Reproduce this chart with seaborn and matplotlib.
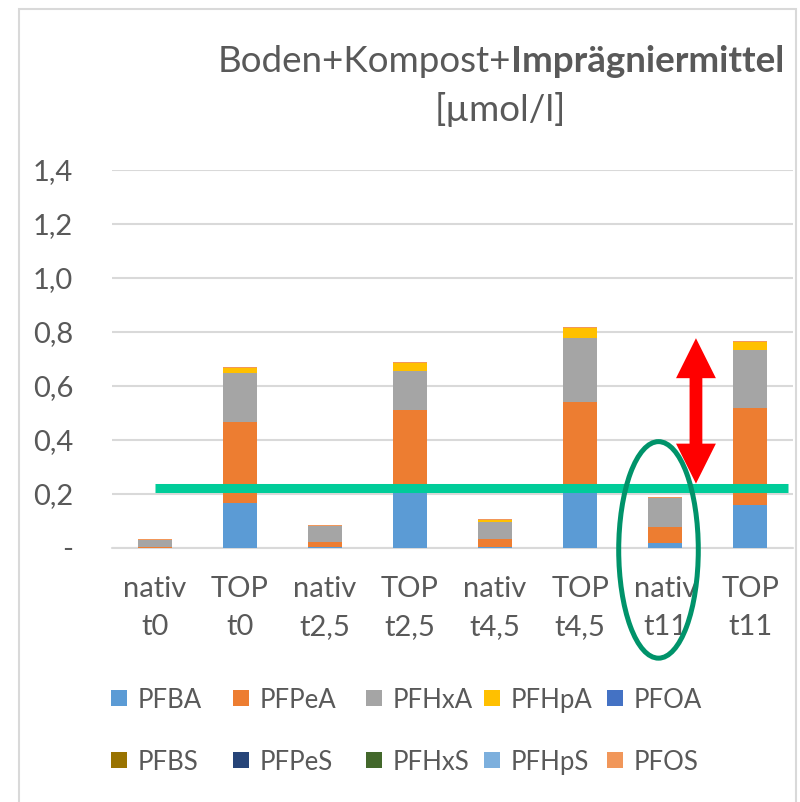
import numpy as np
import pandas as pd
import matplotlib
matplotlib.use("Agg")
import matplotlib.pyplot as plt
from matplotlib.patches import Ellipse, Polygon, Rectangle
import seaborn as sns

#Data
samples = ["nativ\nt0", "TOP\nt0", "nativ\nt2,5", "TOP\nt2,5",
           "nativ\nt4,5", "TOP\nt4,5", "nativ\nt11", "TOP\nt11"]
compounds = ["PFBA", "PFPeA", "PFHxA", "PFHpA", "PFOA",
             "PFBS", "PFPeS", "PFHxS", "PFHpS", "PFOS"]
colors = ["#5B9BD5", "#ED7D31", "#A5A5A5", "#FFC000", "#4472C4",
          "#997300", "#264478", "#43682B", "#7CAFDD", "#F1975A"]

pfba  = [0.000, 0.165, 0.003, 0.215, 0.004, 0.215, 0.017, 0.158]
pfpea = [0.002, 0.300, 0.020, 0.296, 0.028, 0.327, 0.060, 0.359]
pfhxa = [0.027, 0.185, 0.060, 0.146, 0.063, 0.237, 0.109, 0.216]
pfhpa = [0.000, 0.016, 0.000, 0.027, 0.009, 0.035, 0.000, 0.031]
pfoa  = [0.0, 0.0, 0.0, 0.0, 0.0, 0.0, 0.0, 0.0]
pfbs  = [0.0, 0.0, 0.0, 0.0, 0.0, 0.0, 0.0, 0.0]
pfpes = [0.0, 0.0, 0.0, 0.0, 0.0, 0.0, 0.0, 0.0]
pfhxs = [0.0, 0.0, 0.0, 0.0, 0.0, 0.0, 0.0, 0.0]
pfhps = [0.0, 0.0, 0.0, 0.0, 0.0, 0.0, 0.0, 0.0]
pfos  = [0.003, 0.004, 0.004, 0.004, 0.003, 0.004, 0.004, 0.003]

ytick_vals = [0.0, 0.2, 0.4, 0.6, 0.8, 1.0, 1.2, 1.4]
ytick_labels = ["-", "0,2", "0,4", "0,6", "0,8", "1,0", "1,2", "1,4"]

#Annotations: threshold line, arrow, ellipse
thr_value = 0.221
thr_x = (0.0, 7.44)
arrow_x, arrow_y0, arrow_y1 = 6.36, 0.2385, 0.777
ell_center, ell_w, ell_h = (5.92, -0.007), 0.935, 0.802

#Long table with cumulative heights
values = [pfba, pfpea, pfhxa, pfhpa, pfoa, pfbs, pfpes, pfhxs, pfhps, pfos]
DF = pd.DataFrame(np.array(values).T, index=samples, columns=compounds)
DFcum = DF.cumsum(axis=1)
DFlong = DFcum.reset_index().melt(id_vars="index", var_name="compound", value_name="cum")
DFlong = DFlong.rename(columns={"index": "sample"})

sns.set_theme(style="white")
plt.rcParams["font.family"] = ["Lato", "DejaVu Sans"]
txt_col = "#595959"
W, H = 800, 802

fig = plt.figure(figsize=(8, 8.02), dpi=100)
ax = fig.add_axes([112/W, 254/H, 681/W, 378/H])

#Draw stacked bars top-down so lower layers cover higher cumulative bars
for comp, col in reversed(list(zip(compounds, colors))):
    sub = DFlong[DFlong["compound"] == comp]
    sns.barplot(data=sub, x="sample", y="cum", order=samples, color=col,
                saturation=1, width=0.4, errorbar=None, linewidth=0, ax=ax)

ax.set_ylim(0, 1.4)
ax.set_xlim(-0.5, 7.5)
ax.set_yticks(ytick_vals)
ax.set_yticklabels(ytick_labels)
ax.set_xlabel("")
ax.set_ylabel("")
ax.yaxis.grid(True, color="#D9D9D9", lw=1.5)
ax.set_axisbelow(True)
for s in ax.spines.values():
    s.set_visible(False)
ax.axhline(0, color="#D9D9D9", lw=1.5, zorder=0.5, clip_on=False)
ax.tick_params(axis="y", length=0, pad=28, labelsize=21, labelcolor=txt_col)
ax.tick_params(axis="x", length=0, pad=20, labelsize=21, labelcolor=txt_col)
for lab in ax.get_xticklabels():
    lab.set_linespacing(1.6)

#Threshold line
ax.plot(thr_x, [thr_value, thr_value], color="#00CC99", lw=6.5,
        solid_capstyle="butt", zorder=5)

#Red double arrow (half-widths in x units, head length in y units)
hw, sw, hl = 0.234, 0.075, 0.148
pts = [(arrow_x, arrow_y1), (arrow_x + hw, arrow_y1 - hl), (arrow_x + sw, arrow_y1 - hl),
       (arrow_x + sw, arrow_y0 + hl), (arrow_x + hw, arrow_y0 + hl), (arrow_x, arrow_y0),
       (arrow_x - hw, arrow_y0 + hl), (arrow_x - sw, arrow_y0 + hl),
       (arrow_x - sw, arrow_y1 - hl), (arrow_x - hw, arrow_y1 - hl)]
ax.add_patch(Polygon(pts, closed=True, facecolor="#FF0000", edgecolor="none", zorder=6))

#Green ellipse around nativ t11
ax.add_patch(Ellipse(ell_center, ell_w, ell_h, fill=False, edgecolor="#00936A",
                     lw=3.6, clip_on=False, zorder=7))

#Title with mixed weight
title_fs = 26.5
t_bold = fig.text(784/W, 1 - 72/H, "Imprägniermittel", ha="right", va="baseline",
                  fontsize=title_fs, weight="bold", color=txt_col)
fig.canvas.draw()
bb = t_bold.get_window_extent(renderer=fig.canvas.get_renderer())
t_norm = fig.text(bb.x0/W, 1 - 72/H, "Boden+Kompost+", ha="right", va="baseline",
                  fontsize=title_fs, color=txt_col)
fig.canvas.draw()
bb2 = t_norm.get_window_extent(renderer=fig.canvas.get_renderer())
fig.text((bb2.x0 + bb.x1)/2/W, 1 - 121/H, "[µmol/l]", ha="center", va="baseline",
         fontsize=title_fs, color=txt_col)

#Legend: two rows of five entries, Excel-like column positions
leg_cols = [111, 233, 366, 484, 607]
leg_rows = [698, 760]
box = 16
for i, (comp, col) in enumerate(zip(compounds, colors)):
    x0 = leg_cols[i % 5]
    yc = leg_rows[i // 5]
    fig.patches.append(Rectangle((x0/W, 1 - (yc + box/2)/H), box/W, box/H,
                                 transform=fig.transFigure, facecolor=col, edgecolor="none"))
    fig.text((x0 + box + 11)/W, 1 - yc/H, comp, ha="left", va="center_baseline",
             fontsize=18.5, color=txt_col)

#Chart frame
fig.patches.append(Rectangle((19/W, -0.05), 777/W, 1.05 - 9/H, transform=fig.transFigure,
                             fill=False, edgecolor="#D9D9D9", lw=1.5))

fig.savefig("out.png", dpi=100)
